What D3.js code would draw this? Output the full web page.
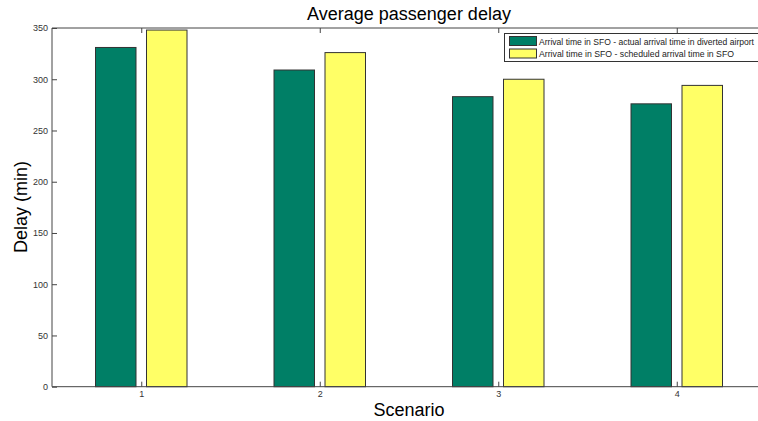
<!DOCTYPE html>
<html><head><meta charset="utf-8">
<script src="https://cdn.jsdelivr.net/npm/d3@7"></script>
<style>body{margin:0;background:#fff}svg{display:block;font-family:"Liberation Sans",Arial,sans-serif}</style>
</head><body><svg id="c" width="758" height="421"></svg>
<script>
const categories = [1, 2, 3, 4];
const seriesNames = ["Arrival time in SFO - actual arrival time in diverted airport", "Arrival time in SFO - scheduled arrival time in SFO"];
const actualDiverted = [331, 309, 283, 276];
const scheduledSFO = [348, 326, 300, 294];
const yTicks = [0, 50, 100, 150, 200, 250, 300, 350];
const colors = ["#007f66", "#ffff66"];

const svg = d3.select("#c");
const L = 52, T = 28, B = 386.7;
const x = d3.scaleLinear().domain([0.5, 4.5]).range([L, 766]);
const y = d3.scaleLinear().domain([0, 350]).range([B, T]);
const bw = 40.5, off = 25.5;
const cx = (L + 766) / 2;

const series = [actualDiverted, scheduledSFO];
series.forEach((vals, si) => {
  svg.append("g").selectAll("rect").data(vals).join("rect")
    .attr("x", (d, i) => x(categories[i]) + (si === 0 ? -off : off) - bw / 2)
    .attr("y", d => y(d))
    .attr("width", bw)
    .attr("height", d => B - y(d))
    .attr("fill", colors[si])
    .attr("stroke", "#333")
    .attr("stroke-width", 1);
});

// axes box
const axc = "#444";
svg.append("line").attr("x1", L).attr("x2", 758).attr("y1", B).attr("y2", B).attr("stroke", axc);
svg.append("line").attr("x1", L).attr("x2", 758).attr("y1", T).attr("y2", T).attr("stroke", axc);
svg.append("line").attr("x1", L).attr("x2", L).attr("y1", T).attr("y2", B).attr("stroke", axc);

// y ticks
const yAxis = d3.axisLeft(y).tickValues(yTicks).tickSize(-5).tickPadding(4).tickFormat(d3.format("d"));
const yg = svg.append("g").attr("transform", `translate(${L},0)`).call(yAxis);
yg.select(".domain").remove();
yg.selectAll("line").attr("stroke", axc);
yg.selectAll("text").attr("font-size", 9).attr("fill", "#333");

// x ticks bottom and top
const xAxis = d3.axisBottom(x).tickValues(categories).tickSize(-5).tickPadding(4).tickFormat(d3.format("d"));
const xg = svg.append("g").attr("transform", `translate(0,${B})`).call(xAxis);
xg.select(".domain").remove();
xg.selectAll("line").attr("stroke", axc);
xg.selectAll("text").attr("font-size", 9).attr("fill", "#333");
const xt = svg.append("g").attr("transform", `translate(0,${T})`).call(d3.axisTop(x).tickValues(categories).tickSize(-5).tickFormat(""));
xt.select(".domain").remove();
xt.selectAll("line").attr("stroke", axc);

// titles
svg.append("text").attr("x", cx).attr("y", 20).attr("text-anchor", "middle").attr("font-size", 18).text("Average passenger delay");
svg.append("text").attr("x", cx).attr("y", 416).attr("text-anchor", "middle").attr("font-size", 18).text("Scenario");
svg.append("text").attr("transform", "translate(27,207) rotate(-90)").attr("text-anchor", "middle").attr("font-size", 18).text("Delay (min)");

// legend
const lg = svg.append("g");
lg.append("rect").attr("x", 504.5).attr("y", 33.5).attr("width", 260).attr("height", 28).attr("fill", "#fff").attr("stroke", "#333");
const legLen = [215, 195];
seriesNames.forEach((n, i) => {
  lg.append("rect").attr("x", 509.5).attr("y", 36.5 + i * 12.5).attr("width", 27).attr("height", 9).attr("fill", colors[i]).attr("stroke", "#333");
  lg.append("text").attr("x", 539).attr("y", 44.5 + i * 12.5).attr("font-size", 8.6).attr("fill", "#222")
    .attr("textLength", legLen[i]).attr("lengthAdjust", "spacingAndGlyphs").text(n);
});
</script></body></html>
